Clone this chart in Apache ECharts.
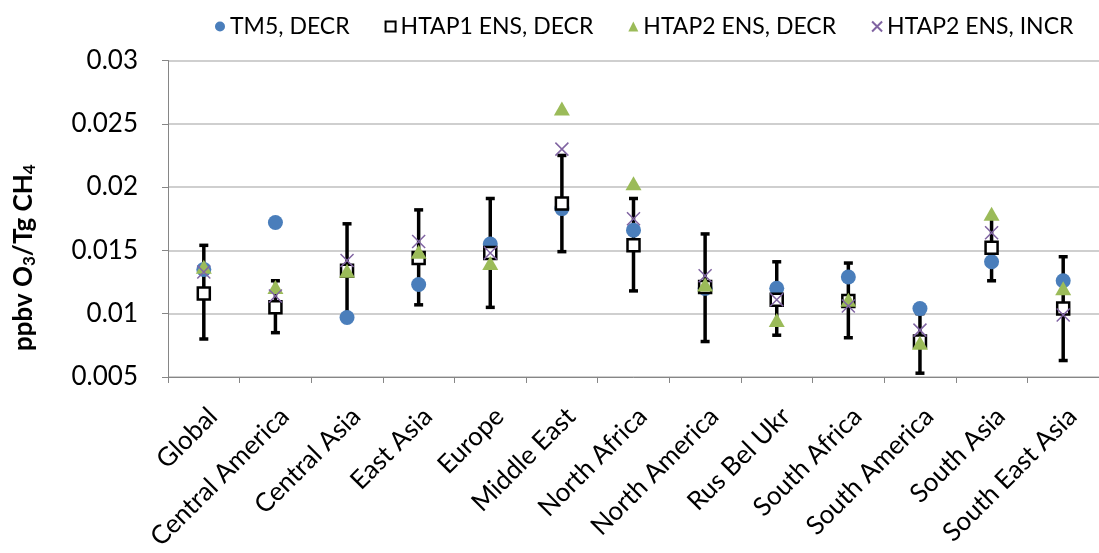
<!DOCTYPE html>
<html><head><meta charset="utf-8">
<script src="https://cdn.jsdelivr.net/npm/echarts@6/dist/echarts.min.js"></script>
<style>html,body{margin:0;padding:0;background:#fff}#c{width:1099px;height:553px}</style>
</head><body><div id="c"></div>
<script>
const categories = ['Global','Central America','Central Asia','East Asia','Europe','Middle East','North Africa','North America','Rus Bel Ukr','South Africa','South America','South Asia','South East Asia'];
const tm5Decr   = [0.0135,0.0172,0.0097,0.0123,0.0155,0.0183,0.0166,0.0120,0.0120,0.0129,0.0104,0.0141,0.0126];
const htap1Decr = [0.0116,0.0105,0.0134,0.0144,0.0148,0.0187,0.0154,0.0121,0.0111,0.0110,0.0078,0.0152,0.0104];
const htap1Low  = [0.0080,0.0085,0.0099,0.0107,0.0105,0.0149,0.0118,0.0078,0.0083,0.0081,0.0053,0.0126,0.0063];
const htap1High = [0.0154,0.0126,0.0171,0.0182,0.0191,0.0225,0.0191,0.0163,0.0141,0.0140,0.0100,0.0176,0.0145];
const htap2Decr = [0.0137,0.0121,0.0134,0.0149,0.0140,0.0262,0.0203,0.0123,0.0095,0.0111,0.0077,0.0179,0.0120];
const htap2Incr = [0.0133,0.0114,0.0142,0.0157,0.0148,0.0230,0.0175,0.0130,0.0111,0.0106,0.0087,0.0164,0.0099];
const yTicks = {min:0.005, max:0.03, interval:0.005};

const FONT = 'Lato, "Open Sans", sans-serif';
const crossPath = 'path://M0,0L10,10M10,0L0,10';
const chart = echarts.init(document.getElementById('c'), null, {renderer:'canvas'});
chart.setOption({
  animation:false,
  backgroundColor:'#fff',
  textStyle:{fontFamily:FONT},
  legend:{
    top:10, left:210, itemGap:35, itemWidth:10, itemHeight:10,
    textStyle:{fontSize:23, color:'#000', fontFamily:FONT},
    data:[
      {name:'TM5, DECR', icon:'circle'},
      {name:'HTAP1 ENS, DECR', icon:'rect'},
      {name:'HTAP2 ENS, DECR', icon:'triangle'},
      {name:'HTAP2 ENS, INCR', icon:crossPath}
    ]
  },
  grid:{left:168, right:-11, top:60.5, bottom:174, containLabel:false},
  xAxis:{
    type:'category', data:categories, boundaryGap:true,
    axisLine:{lineStyle:{color:'#868686', width:1}},
    axisTick:{show:true, length:6, lineStyle:{color:'#868686'}},
    axisLabel:{rotate:45, fontSize:26, color:'#000', margin:26, interval:0, fontFamily:FONT,
      align:'right', verticalAlign:'top'},
    splitLine:{show:false}
  },
  yAxis:{
    type:'value', min:yTicks.min, max:yTicks.max, interval:yTicks.interval,
    axisLine:{show:true, lineStyle:{color:'#868686'}},
    axisTick:{show:true, length:6, lineStyle:{color:'#868686'}},
    axisLabel:{fontSize:26, color:'#000', margin:30, fontFamily:FONT},
    splitLine:{lineStyle:{color:'#BFBFBF', width:1.5}},
    name:'ppbv O{sub|3}/Tg CH{sub|4}',
    nameLocation:'middle', nameGap:130, nameRotate:90,
    nameTextStyle:{fontSize:26, fontWeight:'bold', color:'#000', fontFamily:FONT, padding:[0,78,0,0],
      rich:{sub:{fontSize:17, fontWeight:'bold', color:'#000', padding:[12,0,0,0], fontFamily:FONT}}}
  },
  series:[
    {
      name:'errorbar', type:'custom', z:1,
      data: categories.map((c,i)=>[i, htap1Low[i], htap1High[i]]),
      encode:{x:0, y:[1,2]},
      renderItem:function(params, api){
        const lo = api.coord([api.value(0), api.value(1)]);
        const hi = api.coord([api.value(0), api.value(2)]);
        const hw = 4.5;
        const st = {stroke:'#000', lineWidth:3.5};
        return {type:'group', children:[
          {type:'line', shape:{x1:lo[0], y1:lo[1], x2:hi[0], y2:hi[1]}, style:st},
          {type:'line', shape:{x1:lo[0]-hw, y1:lo[1], x2:lo[0]+hw, y2:lo[1]}, style:st},
          {type:'line', shape:{x1:hi[0]-hw, y1:hi[1], x2:hi[0]+hw, y2:hi[1]}, style:st}
        ]};
      }
    },
    {name:'TM5, DECR', type:'scatter', z:2, symbol:'circle', symbolSize:15,
      itemStyle:{color:'#4A7EBB', opacity:1}, data:tm5Decr},
    {name:'HTAP1 ENS, DECR', type:'scatter', z:3, symbol:'rect', symbolSize:12,
      itemStyle:{color:'#fff', borderColor:'#000', borderWidth:2.5, opacity:1}, data:htap1Decr},
    {name:'HTAP2 ENS, DECR', type:'scatter', z:4, symbol:'triangle', symbolSize:[16,14],
      itemStyle:{color:'#9BBB59', opacity:1}, data:htap2Decr},
    {name:'HTAP2 ENS, INCR', type:'scatter', z:5, symbol:crossPath, symbolSize:13,
      itemStyle:{color:'rgba(0,0,0,0)', borderColor:'#8064A2', borderWidth:1.5, opacity:1}, data:htap2Incr}
  ]
});
</script></body></html>
